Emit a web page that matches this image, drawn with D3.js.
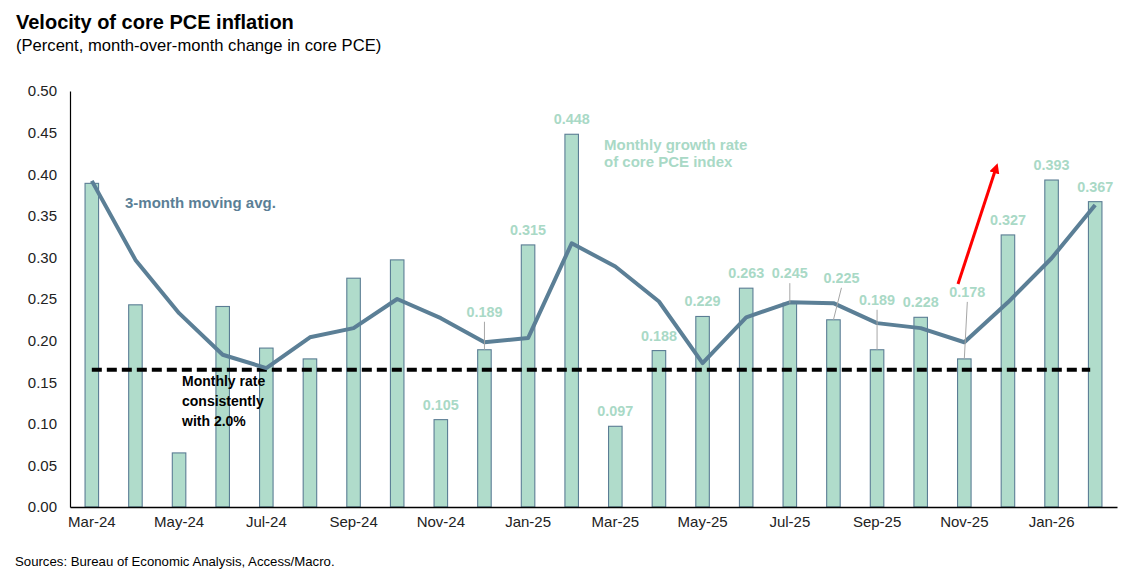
<!DOCTYPE html>
<html>
<head>
<meta charset="utf-8">
<script src="https://cdn.jsdelivr.net/npm/d3@7"></script>
<style>
  html, body { margin: 0; padding: 0; background: #fff; }
  svg { display: block; font-family: Arial, "Liberation Sans", sans-serif; }
  .ttl { font-size: 20px; font-weight: bold; fill: #000; }
  .sub { font-size: 16.6px; fill: #000; }
  .tick-lbl { font-size: 15px; fill: #222; }
  .src { font-size: 13.2px; fill: #000; }
  .val { font-size: 14.4px; font-weight: bold; fill: #a9d9c6; }
  .note { font-size: 15px; font-weight: bold; }
  .note2 { font-size: 14px; font-weight: bold; }
</style>
</head>
<body>
<script>
// Months, Mar-24 .. Feb-26
var months = ["Mar-24","Apr-24","May-24","Jun-24","Jul-24","Aug-24","Sep-24","Oct-24","Nov-24","Dec-24",
              "Jan-25","Feb-25","Mar-25","Apr-25","May-25","Jun-25","Jul-25","Aug-25","Sep-25","Oct-25",
              "Nov-25","Dec-25","Jan-26","Feb-26"];
// monthly growth rate of core PCE (percent)
var monthly = [0.389, 0.243, 0.065, 0.241, 0.191, 0.178, 0.275, 0.297, 0.105, 0.189,
               0.315, 0.448, 0.097, 0.188, 0.229, 0.263, 0.245, 0.225, 0.189, 0.228,
               0.178, 0.327, 0.393, 0.367];
// 3-month moving average
var movAvg = [0.392, 0.297, 0.233, 0.183, 0.167, 0.204, 0.215, 0.250, 0.227, 0.198,
              0.203, 0.317, 0.289, 0.247, 0.173, 0.228, 0.246, 0.245, 0.221, 0.215,
              0.198, 0.246, 0.299, 0.363];
// bars that carry a value label
var labelled = ["Nov-24","Dec-24","Jan-25","Feb-25","Mar-25","Apr-25","May-25","Jun-25","Jul-25","Aug-25",
                "Sep-25","Oct-25","Nov-25","Dec-25","Jan-26","Feb-26"];
// labels lifted off their bar with a leader line: [dx, rise above bar top]
var labelShift = { "Dec-24": [0, 33], "Jul-25": [0, 25], "Aug-25": [8, 37], "Sep-25": [0, 45], "Nov-25": [3, 62] };
var target = 0.165;   // monthly rate consistent with 2.0% a year
var yTicks = [0, 0.05, 0.10, 0.15, 0.20, 0.25, 0.30, 0.35, 0.40, 0.45, 0.50];

var W = 1128, H = 576;
var svg = d3.select("body").append("svg").attr("width", W).attr("height", H);

var x = d3.scaleBand().domain(months).range([70, 1117]).paddingInner(0.69).paddingOuter(0.345);
var y = d3.scaleLinear().domain([0, 0.5]).range([507, 91]);
function cx(m) { return x(m) + x.bandwidth() / 2; }

svg.append("text").attr("class", "ttl").attr("x", 16).attr("y", 29).text("Velocity of core PCE inflation");
svg.append("text").attr("class", "sub").attr("x", 16).attr("y", 51).text("(Percent, month-over-month change in core PCE)");

// y axis
var yAxis = svg.append("g").attr("transform", "translate(70,0)")
  .call(d3.axisLeft(y).tickValues(yTicks).tickFormat(d3.format(".2f")).tickSize(0).tickPadding(13));
yAxis.select(".domain").attr("stroke", "#000").attr("stroke-width", 1.2);
yAxis.selectAll("text").attr("class", "tick-lbl").attr("font-family", null).attr("font-size", null).attr("fill", null);

// bars
svg.append("g").selectAll("rect").data(months).join("rect")
  .attr("x", function (m) { return x(m); })
  .attr("y", function (m, i) { return y(monthly[i]); })
  .attr("width", x.bandwidth())
  .attr("height", function (m, i) { return y(0) - y(monthly[i]); })
  .attr("fill", "#b0dccb").attr("stroke", "#5b7d94").attr("stroke-width", 1.1);

// x axis
var xAxis = svg.append("g").attr("transform", "translate(0,507)")
  .call(d3.axisBottom(x).tickValues(months.filter(function (m, i) { return i % 2 === 0; })).tickSize(0).tickPadding(9));
xAxis.select(".domain").attr("stroke", "#000").attr("stroke-width", 1.5);
xAxis.selectAll("text").attr("class", "tick-lbl").attr("font-family", null).attr("font-size", null).attr("fill", null);

// 2% reference line
svg.append("line")
  .attr("x1", cx(months[0])).attr("x2", cx(months[months.length - 1]) - 5)
  .attr("y1", y(target)).attr("y2", y(target))
  .attr("stroke", "#000").attr("stroke-width", 4).attr("stroke-dasharray", "10,5");

// moving average line
svg.append("path")
  .datum(movAvg)
  .attr("d", d3.line().x(function (d, i) { return cx(months[i]); }).y(function (d) { return y(d); }))
  .attr("fill", "none").attr("stroke", "#5b7f96").attr("stroke-width", 4).attr("stroke-linejoin", "round");

// value labels (some with leader lines)
var lblG = svg.append("g");
labelled.forEach(function (m) {
  var i = months.indexOf(m), v = monthly[i];
  var top = y(v), sh = labelShift[m];
  var lx = cx(m), ly = top - 10;
  if (sh) {
    lx = cx(m) + sh[0]; ly = top - sh[1];
    lblG.append("line").attr("x1", lx).attr("y1", ly + 5).attr("x2", cx(m)).attr("y2", top)
      .attr("stroke", "#a6a6a6").attr("stroke-width", 1);
  }
  lblG.append("text").attr("class", "val").attr("x", lx).attr("y", ly)
    .attr("text-anchor", "middle").text(d3.format(".3f")(v));
});

// annotations
svg.append("text").attr("class", "note").attr("x", 125).attr("y", 208).attr("fill", "#5b7f96").text("3-month moving avg.");
var g1 = svg.append("text").attr("class", "note").attr("fill", "#a9d9c6").attr("x", 604).attr("y", 150);
g1.append("tspan").attr("x", 604).attr("dy", 0).text("Monthly growth rate");
g1.append("tspan").attr("x", 604).attr("dy", 17).text("of core PCE index");
var g2 = svg.append("text").attr("class", "note2").attr("fill", "#000").attr("x", 182).attr("y", 386);
["Monthly rate", "consistently", "with 2.0%"].forEach(function (t, k) {
  g2.append("tspan").attr("x", 182).attr("dy", k ? 20 : 0).text(t);
});

// red arrow
svg.append("defs").append("marker").attr("id", "ah").attr("viewBox", "0 0 10 10")
  .attr("refX", 5).attr("refY", 5).attr("markerWidth", 3.4).attr("markerHeight", 3.4).attr("orient", "auto")
  .append("path").attr("d", "M0,0L10,5L0,10Z").attr("fill", "#ff0000");
svg.append("line").attr("x1", 958).attr("y1", 284).attr("x2", 996).attr("y2", 168)
  .attr("stroke", "#ff0000").attr("stroke-width", 3).attr("marker-end", "url(#ah)");

svg.append("text").attr("class", "src").attr("x", 15).attr("y", 566).text("Sources: Bureau of Economic Analysis, Access/Macro.");
</script>
</body>
</html>
